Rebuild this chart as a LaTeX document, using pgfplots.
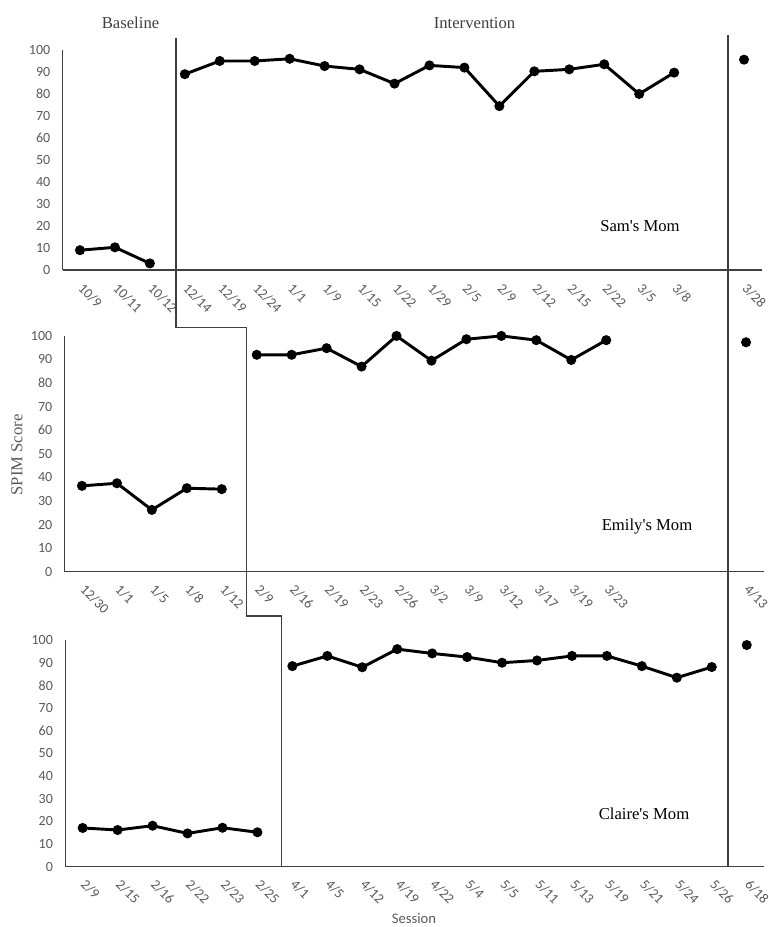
\documentclass[border=0pt]{standalone}
\usepackage{pgfplots}
\pgfplotsset{compat=1.18}
\usepackage{fontspec}
\setmainfont{Liberation Serif}[Ligatures=TeXOff]
\newfontfamily\calibri{Carlito}
\definecolor{tickgray}{HTML}{595959}
\definecolor{axisgray}{HTML}{404040}

\pgfplotsset{
  mbl/.style={
    scale only axis, width=524.25pt,
    xmin=-0.5, xmax=19.5, ymin=0, ymax=100,
    axis x line=bottom, axis y line=left,
    axis line style={-, draw=axisgray, line width=0.8pt},
    ytick={0,10,...,100},
    major tick length=0pt,
    tick label style={font=\calibri\fontsize{10.5}{12}\selectfont, text=tickgray},
    /pgf/number format/assume math mode=true,
    yticklabel style={anchor=east, inner sep=0pt, xshift=-9pt},
    xticklabel style={rotate=-45, anchor=north west, inner sep=0pt, xshift=8.7pt, yshift=-4pt},
    clip=false,
  },
  series/.style={black, line width=2.2pt, mark=*, mark size=2.6pt, mark options={solid}},
}

\begin{document}
\begin{tikzpicture}
\useasboundingbox (0,0) rectangle (576pt,695.25pt);

% Sam's Mom
\begin{axis}[mbl, at={(46.875pt,492.75pt)}, anchor=south west, height=165pt,
  xtick={0,...,17,19},
  xticklabels={10/9,10/11,10/12,12/14,12/19,12/24,1/1,1/9,1/15,1/22,1/29,2/5,2/9,2/12,2/15,2/22,3/5,3/8,3/28}]
\addplot[series] coordinates {(0,9) (1,10.3) (2,3)};
\addplot[series] coordinates {(3,89) (4,95) (5,95) (6,96) (7,92.7) (8,91.2) (9,84.7) (10,93) (11,92) (12,74.5) (13,90.3) (14,91.2) (15,93.5) (16,80) (17,89.7)};
\addplot[series] coordinates {(19,95.6)};
\end{axis}

% Emily's Mom
\begin{axis}[mbl, at={(48.375pt,266.5pt)}, anchor=south west, height=176.8pt,
  xtick={0,...,15,19},
  xticklabels={12/30,1/1,1/5,1/8,1/12,2/9,2/16,2/19,2/23,2/26,3/2,3/9,3/12,3/17,3/19,3/23,4/13}]
\addplot[series] coordinates {(0,36.4) (1,37.5) (2,26.2) (3,35.4) (4,35)};
\addplot[series] coordinates {(5,92) (6,92) (7,94.8) (8,87) (9,100) (10,89.5) (11,98.6) (12,100) (13,98.2) (14,89.8) (15,98.2)};
\addplot[series] coordinates {(19,97.3)};
\end{axis}

% Claire's Mom
\begin{axis}[mbl, at={(48.9pt,45.2pt)}, anchor=south west, height=170pt,
  xtick={0,...,19},
  xticklabels={2/9,2/15,2/16,2/22,2/23,2/25,4/1,4/5,4/12,4/19,4/22,5/4,5/5,5/11,5/13,5/19,5/21,5/24,5/26,6/18}]
\addplot[series] coordinates {(0,17.1) (1,16.2) (2,18.1) (3,14.7) (4,17.2) (5,15.2)};
\addplot[series] coordinates {(6,88.5) (7,93) (8,88) (9,96) (10,94.1) (11,92.5) (12,90) (13,91) (14,93) (15,93) (16,88.5) (17,83.4) (18,88.1)};
\addplot[series] coordinates {(19,97.8)};
\end{axis}

% phase change lines
\draw[axisgray, line width=0.85pt] (132pt,666.75pt) -- (132pt,449.5pt) -- (185pt,449.5pt)
  -- (185pt,233.25pt) -- (211.3pt,233.25pt) -- (211.3pt,45.2pt);
\draw[axisgray, line width=0.85pt] (546pt,669pt) -- (546pt,45.2pt);

% phase and participant labels
\begin{scope}[every node/.style={font=\fontsize{12.5}{15}\selectfont, inner sep=0pt}]
\node[text=axisgray] at (97.9pt,678pt) {Baseline};
\node[text=axisgray] at (355.9pt,678pt) {Intervention};
\node at (480pt,525.75pt) {Sam's Mom};
\node at (485.25pt,300.2pt) {Emily's Mom};
\node at (483pt,84.75pt) {Claire's Mom};
\node[text=tickgray, rotate=90] at (12.75pt,354pt) {SPIM Score};
\end{scope}
\node[font=\calibri\fontsize{11}{13}\selectfont, text=tickgray, inner sep=0pt] at (310.5pt,6pt) {Session};
\end{tikzpicture}
\end{document}
